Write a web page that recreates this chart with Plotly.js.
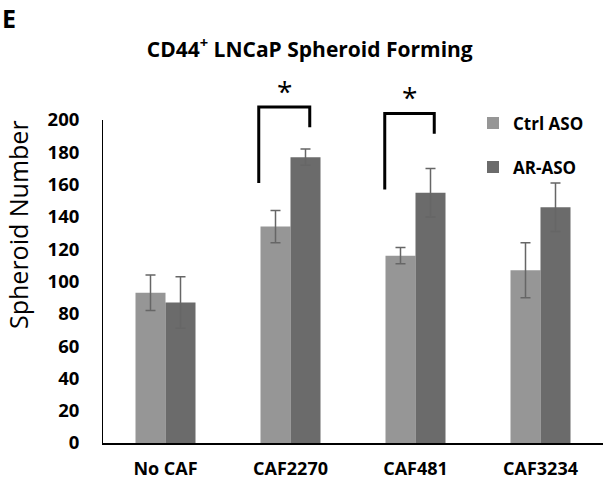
<!DOCTYPE html>
<html>
<head>
<meta charset="utf-8">
<script src="https://cdn.plot.ly/plotly-3.0.1.min.js"></script>
<style>html,body{margin:0;padding:0;background:#fff;}#chart{width:605px;height:481px;}</style>
</head>
<body>
<div id="chart"></div>
<script>
const categories = ["No CAF", "CAF2270", "CAF481", "CAF3234"];
const seriesNames = ["Ctrl ASO", "AR-ASO"];
const ctrlValues = [93, 134, 116, 107];
const ctrlErrors = [11, 10, 5, 17];
const arValues = [87, 177, 155, 146];
const arErrors = [16, 5, 15, 15];
const yTickValues = [0, 20, 40, 60, 80, 100, 120, 140, 160, 180, 200];
const Y_MAX = 200;

// significance brackets: [category index, left offset, right offset, top value, left-bottom value, right-bottom value, star value]
const sigBrackets = [
  [1, -0.254, 0.154, 208, 161, 195.5, 218],
  [2, -0.246, 0.150, 204, 157, 191.5, 214]
];

const FONT = '"Open Sans", "Noto Sans", sans-serif';

const traces = [
  {
    type: 'bar', name: seriesNames[0], x: categories, y: ctrlValues,
    marker: {color: '#969696'}, legendgroup: 'a',
    error_y: {type: 'data', array: ctrlErrors, visible: true, color: '#666666', thickness: 1.5, width: 5}
  },
  {
    type: 'bar', name: seriesNames[1], x: categories, y: arValues,
    marker: {color: '#6b6b6b'}, legendgroup: 'b',
    error_y: {type: 'data', array: arErrors, visible: true, color: '#666666', thickness: 1.5, width: 5}
  }
];

const shapes = sigBrackets.map(b => {
  const xl = b[0] + b[1], xr = b[0] + b[2];
  return {
    type: 'path', xref: 'x', yref: 'paper',
    path: `M ${xl},${b[4] / Y_MAX} L ${xl},${b[3] / Y_MAX} L ${xr},${b[3] / Y_MAX} L ${xr},${b[5] / Y_MAX}`,
    line: {color: '#000', width: 3}
  };
});

const annotations = sigBrackets.map(b => ({
  xref: 'x', yref: 'paper', x: b[0] + (b[1] + b[2]) / 2, y: b[6] / Y_MAX,
  text: '*', showarrow: false, xanchor: 'center', yanchor: 'middle',
  font: {family: FONT, size: 28, color: '#000'}
}));
annotations.push({
  xref: 'paper', yref: 'paper', x: -0.17, y: 0.675, textangle: -90, borderpad: 0,
  text: 'Spheroid Number', showarrow: false, xanchor: 'center', yanchor: 'middle',
  font: {family: FONT, size: 25, color: '#000'}
});
annotations.push({
  xref: 'paper', yref: 'paper', x: -0.204, y: 1.37, borderpad: 0,
  text: '<b>E</b>', showarrow: false, xanchor: 'left', yanchor: 'top',
  font: {family: FONT, size: 25, color: '#000'}
});

const layout = {
  width: 605, height: 481,
  margin: {l: 103, r: 2, t: 120, b: 38, pad: 0},
  paper_bgcolor: '#fff', plot_bgcolor: '#fff',
  barmode: 'group', bargap: 0.52, bargroupgap: 0,
  title: {
    text: '<b>CD44<sup>+</sup> LNCaP Spheroid Forming</b>',
    xref: 'container', yref: 'container', x: 0.512, y: 0.897, xanchor: 'center', yanchor: 'middle',
    font: {family: FONT, size: 21, color: '#000'}
  },
  xaxis: {
    type: 'category', range: [-0.5, 3.5], showline: true, linecolor: '#000', linewidth: 1.5,
    ticks: '', showgrid: false, zeroline: false, ticklabelstandoff: 9,
    tickfont: {family: FONT, size: 18, color: '#000', weight: 'bold'}
  },
  yaxis: {
    range: [0, Y_MAX], tickvals: yTickValues, showline: true, linecolor: '#000', linewidth: 1,
    ticks: '', showgrid: false, zeroline: false, ticklabelstandoff: 19,
    tickfont: {family: FONT, size: 18.5, color: '#000', weight: 'bold'}
  },
  showlegend: true,
  legend: {
    x: 0.74, y: 1.045, xanchor: 'left', yanchor: 'top', traceorder: 'grouped', tracegroupgap: 19,
    bgcolor: 'rgba(0,0,0,0)', borderwidth: 0,
    font: {family: FONT, size: 17, color: '#000', weight: 'bold'}
  },
  shapes: shapes,
  annotations: annotations
};

Plotly.newPlot('chart', traces, layout, {displayModeBar: false, staticPlot: true});
</script>
</body>
</html>
